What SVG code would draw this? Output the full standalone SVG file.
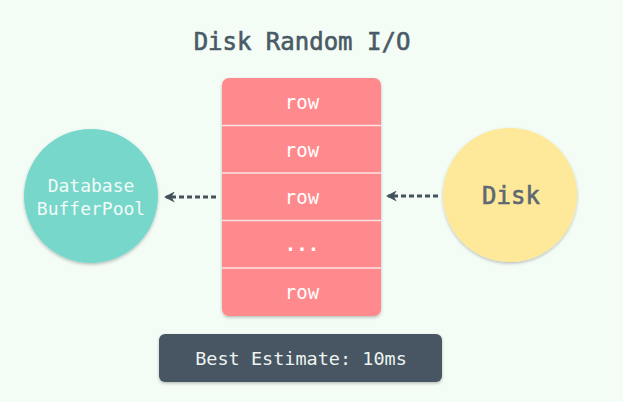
<svg xmlns="http://www.w3.org/2000/svg" width="623" height="402" viewBox="0 0 623 402">
  <defs>
    <filter id="sh" x="-20%" y="-20%" width="140%" height="140%">
      <feDropShadow dx="0" dy="1.5" stdDeviation="1.5" flood-color="#000" flood-opacity="0.25"/>
    </filter>
    <marker id="ah" viewBox="0 0 10 10" refX="8" refY="5" markerWidth="11" markerHeight="11" markerUnits="userSpaceOnUse" orient="auto">
      <path d="M10,5 L0,0 L3,5 L0,10 Z" fill="#44525c"/>
    </marker>
    <style>
      text { font-family: "DejaVu Sans Mono", "Liberation Mono", monospace; text-anchor: middle; dominant-baseline: central; }
      .row { fill: #ffffff; font-size: 19px; }
      .med { stroke-width: 0.6; }
      .sep { stroke: #fbe3e3; stroke-width: 1.5; }
      .conn { stroke: #44525c; stroke-width: 3; stroke-dasharray: 5 3; fill: none; }
    </style>
  </defs>
  <rect width="623" height="402" fill="#f4fdf5"/>
  <text class="med" x="302" y="42" font-size="24" fill="#4a5a66" stroke="#4a5a66">Disk Random I/O</text>

  <g id="stack">
    <rect x="222" y="78" width="159" height="238" rx="7" fill="#ff8a8e" filter="url(#sh)"/>
    <line class="sep" x1="222" y1="125.5" x2="381" y2="125.5"/>
    <line class="sep" x1="222" y1="173" x2="381" y2="173"/>
    <line class="sep" x1="222" y1="220.5" x2="381" y2="220.5"/>
    <line class="sep" x1="222" y1="268" x2="381" y2="268"/>
    <text class="row" x="302" y="102">row</text>
    <text class="row" x="302" y="150">row</text>
    <text class="row" x="302" y="197">row</text>
    <text class="row" x="302" y="244" font-weight="bold">...</text>
    <text class="row" x="302" y="292">row</text>
  </g>

  <g id="bufferpool">
    <circle cx="91" cy="196" r="67" fill="#77d7ca" filter="url(#sh)"/>
    <text x="91" y="185" font-size="18" fill="#f2fbf8">Database</text>
    <text x="91" y="208" font-size="18" fill="#f2fbf8">BufferPool</text>
  </g>

  <g id="disk">
    <circle cx="510" cy="195" r="67" fill="#fde999" filter="url(#sh)"/>
    <text class="med" x="511" y="196" font-size="24" fill="#5d6872" stroke="#5d6872">Disk</text>
  </g>

  <g id="estimate">
    <rect x="159" y="334" width="283" height="48" rx="6" fill="#475762" filter="url(#sh)"/>
    <text x="301" y="358" font-size="18.5" fill="#eef4f1">Best Estimate: 10ms</text>
  </g>

  <g id="connectors">
    <line class="conn" x1="216" y1="197" x2="166" y2="197" marker-end="url(#ah)"/>
    <line class="conn" x1="438" y1="196" x2="388" y2="196" marker-end="url(#ah)"/>
  </g>
</svg>
